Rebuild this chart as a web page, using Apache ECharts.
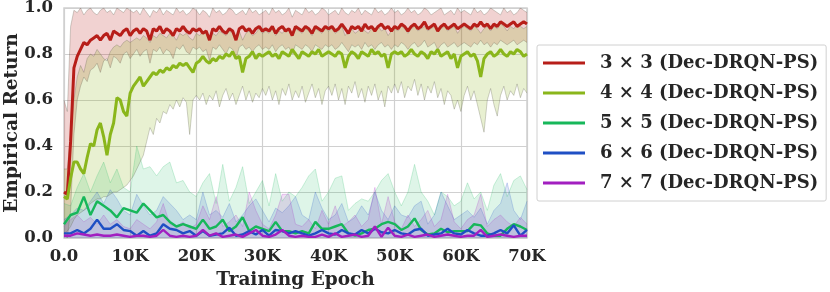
<!DOCTYPE html>
<html>
<head>
<meta charset="utf-8">
<script src="https://cdn.jsdelivr.net/npm/echarts@6/dist/echarts.min.js"></script>
<style>
html,body{margin:0;padding:0;background:#fff;}
#c{width:830px;height:292px;}
</style>
</head>
<body>
<div id="c"></div>
<script>
// ---- x grids ----
const denseStep = 500;   // red / yellow-green series sampled every 500 epochs (0..70K)
const sparseStep = 1000; // lower series sampled every 1000 epochs (0..70K)
const xTicks = ['0.0','10K','20K','30K','40K','50K','60K','70K'];
const yTicks = ['0.0','0.2','0.4','0.6','0.8','1.0'];
const seriesNames = ['3 \u00d7 3 (Dec-DRQN-PS)','4 \u00d7 4 (Dec-DRQN-PS)','5 \u00d7 5 (Dec-DRQN-PS)','6 \u00d7 6 (Dec-DRQN-PS)','7 \u00d7 7 (Dec-DRQN-PS)'];

// ---- 3x3 ----
const r3Mean = [0.20,0.19,0.42,0.74,0.79,0.82,0.85,0.84,0.86,0.87,0.88,0.86,0.88,0.89,0.86,0.90,0.89,0.88,0.90,0.91,0.88,
0.90,0.91,0.89,0.91,0.90,0.86,0.91,0.90,0.92,0.89,0.91,0.90,0.88,0.91,0.90,0.92,0.90,0.89,0.91,0.90,
0.91,0.89,0.90,0.86,0.91,0.90,0.92,0.90,0.89,0.91,0.90,0.86,0.91,0.92,0.90,0.91,0.89,0.91,0.92,0.90,
0.91,0.90,0.92,0.89,0.91,0.92,0.90,0.91,0.88,0.92,0.91,0.90,0.92,0.91,0.89,0.92,0.91,0.90,0.92,0.91,
0.92,0.90,0.91,0.93,0.91,0.89,0.92,0.91,0.92,0.90,0.93,0.91,0.92,0.90,0.92,0.93,0.91,0.92,0.90,0.92,
0.91,0.93,0.92,0.90,0.92,0.93,0.91,0.92,0.94,0.91,0.92,0.93,0.90,0.92,0.93,0.91,0.92,0.93,0.91,0.92,
0.93,0.92,0.91,0.93,0.92,0.94,0.92,0.93,0.91,0.93,0.92,0.94,0.93,0.92,0.93,0.94,0.92,0.93,0.94,0.93];
const r3Upper = [0.60,0.55,0.92,0.99,0.98,1.0,0.97,0.99,1.0,0.98,0.97,0.99,1.0,0.98,0.99,0.97,1.0,0.99,0.98,1.0,0.99,
0.98,0.99,0.97,1.0,0.98,0.96,0.99,0.98,1.0,0.97,0.99,0.98,0.97,1.0,0.98,0.99,0.97,0.98,1.0,0.99,
0.97,0.99,0.98,0.96,1.0,0.98,0.99,0.97,0.98,1.0,0.99,0.97,0.98,0.99,0.97,1.0,0.98,0.99,0.97,0.98,
0.99,0.97,1.0,0.98,0.99,0.97,0.98,1.0,0.96,0.99,0.98,0.97,1.0,0.98,0.99,0.97,0.98,1.0,0.99,0.97,
0.98,0.99,0.97,1.0,0.98,0.97,0.99,0.98,1.0,0.97,0.99,0.98,0.97,1.0,0.98,0.99,0.97,0.98,1.0,0.98,
0.99,0.97,0.98,1.0,0.98,0.99,0.97,0.98,1.0,0.99,0.97,0.98,0.99,1.0,0.97,0.98,0.99,0.97,1.0,0.98,
0.99,0.98,0.97,1.0,0.98,0.99,0.97,0.98,1.0,0.99,0.98,0.97,1.0,0.98,0.99,0.97,0.98,1.0,0.99,0.98];
const r3Lower = [0.02,0.0,0.12,0.45,0.60,0.66,0.70,0.68,0.73,0.74,0.76,0.72,0.77,0.78,0.74,0.79,0.78,0.76,0.80,0.81,0.78,
0.80,0.82,0.79,0.81,0.82,0.76,0.82,0.81,0.83,0.80,0.82,0.81,0.78,0.83,0.82,0.84,0.81,0.80,0.83,0.82,
0.83,0.81,0.82,0.77,0.83,0.82,0.84,0.82,0.80,0.83,0.82,0.78,0.83,0.84,0.82,0.83,0.81,0.83,0.84,0.82,
0.83,0.82,0.84,0.81,0.83,0.84,0.82,0.83,0.80,0.84,0.83,0.82,0.84,0.83,0.81,0.84,0.83,0.82,0.84,0.83,
0.84,0.82,0.83,0.85,0.83,0.81,0.84,0.83,0.84,0.82,0.85,0.83,0.84,0.82,0.84,0.85,0.83,0.84,0.82,0.84,
0.83,0.85,0.84,0.82,0.84,0.85,0.83,0.84,0.86,0.83,0.84,0.85,0.82,0.84,0.85,0.83,0.84,0.85,0.83,0.84,
0.85,0.84,0.83,0.85,0.84,0.86,0.84,0.85,0.83,0.85,0.84,0.86,0.85,0.84,0.85,0.86,0.84,0.85,0.86,0.85];

// ---- 4x4 ----
const g4Mean = [0.18,0.17,0.26,0.33,0.33,0.30,0.28,0.35,0.41,0.40,0.47,0.50,0.44,0.36,0.45,0.50,0.61,0.60,0.55,0.53,0.63,
0.66,0.68,0.70,0.66,0.68,0.70,0.72,0.71,0.73,0.72,0.74,0.73,0.75,0.74,0.76,0.75,0.76,0.74,0.72,0.76,
0.77,0.79,0.77,0.76,0.78,0.77,0.79,0.78,0.80,0.79,0.81,0.78,0.79,0.72,0.78,0.79,0.81,0.78,0.80,0.79,
0.80,0.81,0.79,0.80,0.78,0.81,0.80,0.79,0.82,0.80,0.78,0.81,0.80,0.79,0.81,0.80,0.82,0.79,0.80,0.81,
0.80,0.79,0.81,0.80,0.74,0.79,0.81,0.80,0.78,0.81,0.80,0.79,0.82,0.80,0.81,0.79,0.80,0.74,0.80,0.81,
0.80,0.81,0.79,0.80,0.82,0.80,0.79,0.81,0.80,0.78,0.81,0.80,0.82,0.79,0.80,0.81,0.78,0.80,0.74,0.79,
0.80,0.81,0.79,0.80,0.77,0.70,0.78,0.80,0.81,0.79,0.80,0.82,0.80,0.79,0.81,0.80,0.82,0.81,0.79,0.80];
const g4Upper = [0.30,0.30,0.45,0.60,0.70,0.75,0.72,0.78,0.80,0.79,0.82,0.80,0.78,0.77,0.81,0.83,0.84,0.83,0.85,0.86,0.85,
0.86,0.87,0.86,0.88,0.87,0.85,0.88,0.87,0.89,0.88,0.87,0.89,0.88,0.86,0.89,0.88,0.89,0.87,0.86,0.89,
0.88,0.90,0.89,0.87,0.89,0.88,0.90,0.89,0.88,0.90,0.89,0.87,0.90,0.86,0.89,0.90,0.88,0.89,0.91,0.89,
0.90,0.89,0.91,0.88,0.90,0.89,0.91,0.90,0.88,0.91,0.90,0.89,0.91,0.90,0.88,0.91,0.90,0.89,0.91,0.90,
0.91,0.89,0.90,0.92,0.88,0.90,0.91,0.89,0.90,0.92,0.90,0.89,0.91,0.90,0.92,0.90,0.91,0.88,0.90,0.91,
0.90,0.92,0.91,0.89,0.91,0.92,0.90,0.91,0.92,0.90,0.91,0.92,0.90,0.91,0.92,0.90,0.91,0.92,0.89,0.91,
0.92,0.91,0.90,0.92,0.91,0.89,0.91,0.92,0.90,0.92,0.91,0.93,0.92,0.90,0.92,0.91,0.93,0.92,0.91,0.92];
const g4Lower = [0.02,0.03,0.05,0.08,0.10,0.11,0.12,0.13,0.15,0.16,0.17,0.17,0.18,0.18,0.19,0.20,0.20,0.21,0.22,0.23,0.25,
0.27,0.30,0.33,0.36,0.42,0.48,0.45,0.52,0.50,0.55,0.54,0.58,0.56,0.60,0.57,0.61,0.59,0.45,0.60,0.62,
0.60,0.63,0.58,0.62,0.60,0.64,0.57,0.62,0.65,0.60,0.63,0.58,0.62,0.66,0.60,0.64,0.59,0.63,0.61,0.65,
0.62,0.66,0.60,0.64,0.58,0.65,0.62,0.67,0.60,0.64,0.61,0.66,0.59,0.63,0.67,0.61,0.65,0.58,0.64,0.66,
0.62,0.67,0.60,0.65,0.58,0.66,0.63,0.68,0.61,0.65,0.59,0.66,0.62,0.67,0.60,0.64,0.57,0.66,0.63,0.67,
0.63,0.68,0.61,0.66,0.64,0.69,0.62,0.67,0.60,0.66,0.63,0.68,0.61,0.65,0.58,0.64,0.62,0.56,0.60,0.55,
0.62,0.66,0.60,0.64,0.58,0.52,0.46,0.60,0.65,0.58,0.53,0.62,0.66,0.60,0.64,0.62,0.67,0.61,0.65,0.63];

// ---- 5x5, 6x6, 7x7 (every 1000 epochs) ----
const g5Mean = [0.06,0.10,0.11,0.18,0.10,0.16,0.14,0.12,0.09,0.13,0.12,0.11,0.15,0.12,0.09,0.10,0.07,0.05,0.06,0.05,
0.04,0.08,0.04,0.05,0.08,0.03,0.05,0.09,0.03,0.05,0.04,0.03,0.07,0.03,0.03,0.02,0.03,0.02,0.07,0.04,
0.04,0.05,0.06,0.02,0.01,0.02,0.035,0.04,0.06,0.07,0.06,0.035,0.05,0.085,0.035,0.015,0.02,0.04,0.025,0.03,
0.03,0.03,0.06,0.055,0.02,0.01,0.01,0.04,0.06,0.05,0.035];
const g5Upper = [0.15,0.14,0.22,0.28,0.20,0.27,0.33,0.24,0.30,0.22,0.20,0.40,0.30,0.31,0.27,0.31,0.33,0.24,0.25,0.20,
0.18,0.24,0.28,0.15,0.32,0.16,0.22,0.31,0.15,0.20,0.25,0.14,0.28,0.16,0.20,0.18,0.22,0.27,0.30,0.16,
0.20,0.26,0.27,0.12,0.15,0.17,0.16,0.20,0.25,0.28,0.20,0.14,0.20,0.32,0.20,0.16,0.10,0.20,0.18,0.14,
0.16,0.24,0.17,0.20,0.12,0.23,0.28,0.18,0.25,0.27,0.21];
const b6Mean = [0.02,0.02,0.035,0.02,0.04,0.08,0.04,0.04,0.06,0.035,0.03,0.01,0.03,0.01,0.02,0.06,0.04,0.035,0.02,0.03,
0.01,0.03,0.01,0.015,0.02,0.045,0.01,0.015,0.03,0.015,0.035,0.01,0.035,0.03,0.02,0.03,0.02,0.01,0.02,0.035,
0.02,0.015,0.035,0.02,0.015,0.035,0.02,0.04,0.025,0.02,0.035,0.02,0.015,0.035,0.04,0.01,0.015,0.02,0.04,0.02,
0.015,0.035,0.02,0.01,0.01,0.02,0.035,0.02,0.055,0.01,0.035];
const b6Upper = [0.08,0.10,0.13,0.12,0.16,0.20,0.15,0.21,0.17,0.12,0.10,0.19,0.14,0.10,0.12,0.18,0.15,0.12,0.08,0.10,
0.08,0.20,0.10,0.12,0.09,0.15,0.07,0.10,0.14,0.17,0.12,0.07,0.13,0.11,0.14,0.18,0.10,0.08,0.20,0.13,
0.08,0.10,0.15,0.07,0.09,0.14,0.10,0.20,0.12,0.08,0.14,0.10,0.09,0.14,0.16,0.06,0.10,0.20,0.14,0.08,
0.10,0.12,0.09,0.13,0.06,0.12,0.15,0.24,0.12,0.08,0.16];
const p7Mean = [0.01,0.01,0.02,0.015,0.01,0.015,0.01,0.01,0.015,0.01,0.005,0.01,0.01,0.005,0.01,0.035,0.01,0.005,0.01,0.005,
0.01,0.035,0.01,0.02,0.005,0.01,0.015,0.005,0.02,0.035,0.01,0.005,0.015,0.035,0.01,0.005,0.01,0.005,0.005,0.015,
0.005,0.02,0.005,0.01,0.015,0.005,0.01,0.05,0.005,0.045,0.01,0.005,0.015,0.005,0.01,0.015,0.005,0.01,0.015,0.01,
0.005,0.01,0.01,0.035,0.005,0.01,0.015,0.01,0.005,0.01,0.01];
const p7Upper = [0.05,0.08,0.10,0.07,0.09,0.06,0.10,0.06,0.08,0.05,0.04,0.08,0.06,0.04,0.07,0.15,0.06,0.05,0.07,0.04,
0.06,0.14,0.08,0.18,0.05,0.07,0.10,0.05,0.20,0.12,0.06,0.04,0.10,0.19,0.19,0.06,0.05,0.08,0.04,0.12,
0.06,0.14,0.05,0.07,0.10,0.05,0.08,0.22,0.06,0.18,0.07,0.04,0.10,0.05,0.08,0.12,0.05,0.08,0.19,0.07,
0.04,0.08,0.10,0.19,0.05,0.08,0.10,0.07,0.05,0.09,0.06];

const colors = ['#b71e19','#8ab61b','#17b75a','#1f4fc4','#a21fc0'];
const FONT = '"DejaVu Serif", serif';

function pairs(step, arr){ return arr.map((v,i)=>[i*step, v]); }
function rgba(hex, a){
  const n = parseInt(hex.slice(1),16);
  return 'rgba(' + ((n>>16)&255) + ',' + ((n>>8)&255) + ',' + (n&255) + ',' + a + ')';
}

const edgeGrey = 'rgba(95,95,80,0.42)';
const series = [];

// band polygon (between lower and upper arrays) drawn through the axes' scales
function bandSeries(step, lo, up, fill){
  return {
    type:'custom', z:1, silent:true, clip:true,
    data:[[0, 0]],
    renderItem:function(params, api){
      const pts = [];
      for (let i = 0; i < up.length; i++) pts.push(api.coord([i*step, up[i]]));
      for (let i = lo.length - 1; i >= 0; i--) pts.push(api.coord([i*step, lo[i]]));
      return {type:'polygon', shape:{points:pts}, style:{fill:fill, stroke:null}};
    }
  };
}
function edgeSeries(step, arr, color){
  return {type:'line', data:pairs(step, arr), symbol:'none', z:2, silent:true,
    lineStyle:{color:color, width:0.7}};
}

series.push(bandSeries(denseStep, r3Lower, r3Upper, rgba(colors[0], 0.2)));
series.push(edgeSeries(denseStep, r3Lower, edgeGrey));
series.push(edgeSeries(denseStep, r3Upper, edgeGrey));
series.push(bandSeries(denseStep, g4Lower, g4Upper, rgba(colors[1], 0.2)));
series.push(edgeSeries(denseStep, g4Lower, edgeGrey));
series.push(edgeSeries(denseStep, g4Upper, edgeGrey));

// bands for lower series (from zero)
[[g5Upper, colors[2]], [b6Upper, colors[3]], [p7Upper, colors[4]]].forEach(([up, c]) => {
  series.push({type:'line', data:pairs(sparseStep, up), symbol:'none', z:1, silent:true,
    lineStyle:{color:rgba(c,0.3), width:0.7}, areaStyle:{color:rgba(c,0.2), origin:'start'}});
});

// mean lines
const means = [[r3Mean, denseStep, 3], [g4Mean, denseStep, 3], [g5Mean, sparseStep, 2.4], [b6Mean, sparseStep, 2.4], [p7Mean, sparseStep, 2.4]];
means.forEach(([arr, step, w], k) => {
  series.push({type:'line', name:seriesNames[k], data:pairs(step, arr), symbol:'none', z:3,
    lineStyle:{color:colors[k], width:w}, itemStyle:{color:colors[k]}});
});

const chart = echarts.init(document.getElementById('c'), null, {renderer:'canvas'});
chart.setOption({
  animation:false,
  backgroundColor:'#ffffff',
  grid:{left:64, top:8, width:463, height:230, outerBoundsMode:'none', containLabel:false,
    show:true, borderColor:'#cfcfcf', borderWidth:1.5, backgroundColor:'#ffffff'},
  xAxis:{type:'value', min:0, max:70000, interval:10000,
    axisLine:{show:false}, axisTick:{show:false},
    splitLine:{show:true, lineStyle:{color:'#d0d0d0', width:1.2}},
    axisLabel:{margin:10, fontFamily:FONT, fontWeight:'bold', fontSize:16.5, color:'#262626',
      formatter:(v)=>xTicks[Math.round(v/10000)]},
    name:'Training Epoch', nameLocation:'middle', nameGap:33, nameMoveOverlap:false,
    nameTextStyle:{fontFamily:FONT, fontWeight:'bold', fontSize:18.5, color:'#262626'}},
  yAxis:{type:'value', min:0, max:1, interval:0.2,
    axisLine:{show:false}, axisTick:{show:false},
    splitLine:{show:true, lineStyle:{color:'#d0d0d0', width:1.2}},
    axisLabel:{margin:11, fontFamily:FONT, fontWeight:'bold', fontSize:16.5, color:'#262626',
      formatter:(v)=>yTicks[Math.round(v*5)]},
    name:'Empirical Return', nameLocation:'middle', nameGap:42, nameRotate:90, nameMoveOverlap:false,
    nameTextStyle:{fontFamily:FONT, fontWeight:'bold', fontSize:18.5, color:'#262626'}},
  legend:{data:seriesNames.map(n=>({name:n, icon:'rect'})), orient:'vertical', left:537, top:45,
    itemWidth:42, itemHeight:3, itemGap:10, padding:[8,8,8,6],
    borderColor:'#d0d0d0', borderWidth:1, borderRadius:2, backgroundColor:'#fff',
    textStyle:{fontFamily:FONT, fontWeight:'bold', fontSize:18, color:'#262626', lineHeight:20, padding:[0,0,0,10]}},
  series:series
});
</script>
</body>
</html>
